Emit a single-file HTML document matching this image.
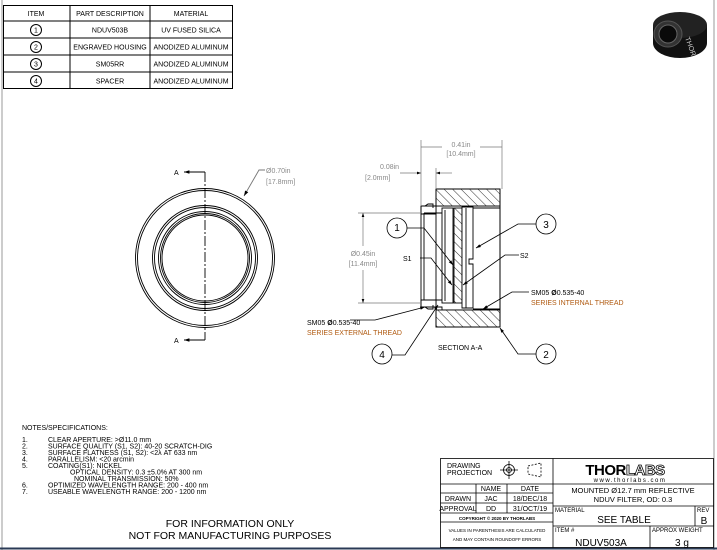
<!DOCTYPE html>
<html><head><meta charset="utf-8"><style>
body{margin:0;background:#fff;}
svg{display:block;font-family:"Liberation Sans",sans-serif;}
.t{font-size:7px;fill:#000;}
.g{font-size:7px;fill:#888;}
.o{font-size:7px;fill:#b05a10;}
</style></head><body>
<svg width="717" height="550" viewBox="0 0 717 550" xmlns="http://www.w3.org/2000/svg">
<defs>
<pattern id="h" width="6" height="6" patternUnits="userSpaceOnUse" patternTransform="rotate(-45)">
<rect width="6" height="6" fill="#fff"/><line x1="0" y1="0" x2="0" y2="6" stroke="#000" stroke-width="0.8"/></pattern>
<marker id="ar" markerWidth="6" markerHeight="6" refX="6" refY="3" orient="auto"><path d="M0,1 L6,3 L0,5z" fill="#000"/></marker>
</defs>
<line x1="2" y1="0" x2="2" y2="550" stroke="#bbb" stroke-width="1.5"/>
<line x1="714" y1="0" x2="714" y2="550" stroke="#bbb" stroke-width="1.5"/>
<line x1="0" y1="548.5" x2="717" y2="548.5" stroke="#2a3a55" stroke-width="2"/>

<!-- parts table -->
<g stroke="#000" stroke-width="1" fill="none">
<rect x="3.5" y="5.5" width="229" height="83"/>
<line x1="70" y1="5.5" x2="70" y2="88.5"/><line x1="150" y1="5.5" x2="150" y2="88.5"/>
<line x1="3.5" y1="21" x2="232.5" y2="21"/><line x1="3.5" y1="38" x2="232.5" y2="38"/>
<line x1="3.5" y1="55" x2="232.5" y2="55"/><line x1="3.5" y1="72" x2="232.5" y2="72"/>
<circle cx="36" cy="30" r="5.5"/><circle cx="36" cy="47" r="5.5"/><circle cx="36" cy="64" r="5.5"/><circle cx="36" cy="81" r="5.5"/>
</g>
<g class="t" text-anchor="middle">
<text x="36" y="16">ITEM</text><text x="110" y="16">PART DESCRIPTION</text><text x="191" y="16">MATERIAL</text>
<text x="36" y="32.5">1</text><text x="36" y="49.5">2</text><text x="36" y="66.5">3</text><text x="36" y="83.5">4</text>
<text x="110" y="32.5">NDUV503B</text><text x="191" y="32.5">UV FUSED SILICA</text>
<text x="110" y="49.5">ENGRAVED HOUSING</text><text x="191" y="49.5">ANODIZED ALUMINUM</text>
<text x="110" y="66.5">SM05RR</text><text x="191" y="66.5">ANODIZED ALUMINUM</text>
<text x="110" y="83.5">SPACER</text><text x="191" y="83.5">ANODIZED ALUMINUM</text>
</g>

<!-- photo -->
<g>
<ellipse cx="680" cy="43" rx="27" ry="15" fill="#111"/>
<rect x="653" y="25" width="54" height="18" fill="#111"/>
<ellipse cx="680" cy="25" rx="27" ry="13" fill="#222"/>
<ellipse cx="668" cy="34" rx="14" ry="13" fill="#333" stroke="#555"/>
<ellipse cx="668" cy="34" rx="9" ry="9" fill="#0a0a0a" stroke="#666"/>
<text x="685" y="38" font-size="7" fill="#ccc" transform="rotate(70 685 38)">THOR</text>
</g>

<!-- front view -->
<g stroke="#000" stroke-width="0.9" fill="none">
<circle cx="205" cy="258" r="69.5"/><circle cx="205" cy="258" r="67.5"/>
<circle cx="205" cy="258" r="52.5"/><circle cx="205" cy="258" r="50.5"/>
<circle cx="205" cy="258" r="46.5"/><circle cx="205" cy="258" r="44.5"/><circle cx="205" cy="258" r="43"/>
<line x1="205" y1="172" x2="205" y2="340" stroke-dasharray="10,2,2,2"/>
<polyline points="205,172 184,172" marker-end="url(#ar)"/>
<polyline points="205,340 184,340" marker-end="url(#ar)"/>
<polyline points="265,170 259,170 244,196" stroke="#777" marker-end="url(#ar)"/>
</g>
<text class="t" x="174" y="175" font-size="8">A</text><text class="t" x="174" y="343" font-size="8">A</text>
<text class="g" x="266" y="173">Ø0.70in</text><text class="g" x="266" y="184">[17.8mm]</text>

<!-- section view -->
<g stroke="#000" stroke-width="0.9">
<path d="M436,189 H500 V327 H436 V307 H442 V310 H500 M436,189 V206 H500" fill="none"/>
<rect x="436" y="189" width="64" height="17" fill="url(#h)"/>
<rect x="436" y="310" width="64" height="17" fill="url(#h)"/>
<rect x="436" y="189" width="64" height="138" fill="none"/>
<path d="M421,206 H436 V214 H421 Z M421,300 H436 V307 H421 Z" fill="#fff"/>
<path d="M421,206 V307 M424,213 H442 M424,300 H442 M424,213 V300" fill="none"/>
<path d="M425,206 l3,-2 h5 v4 M425,307 l3,2 h5 v-4" fill="none"/>
<rect x="442" y="208" width="11" height="95" fill="#fff"/>
<line x1="445" y1="210" x2="445" y2="301"/>
<rect x="454" y="208" width="8" height="95" fill="url(#h)"/>
<path d="M462,207 h11 v52 h-4 v5 h4 v44 h-11 z" fill="#fff"/>
<line x1="466" y1="208" x2="466" y2="308"/>
<line x1="473" y1="208" x2="500" y2="208"/>
<line x1="473" y1="309" x2="500" y2="309"/>
</g>
<!-- dimensions -->
<g stroke="#777" stroke-width="0.7" fill="none">
<line x1="421" y1="140" x2="421" y2="206"/><line x1="502" y1="140" x2="502" y2="189"/>
<line x1="436" y1="168" x2="436" y2="189"/>
<line x1="421" y1="147" x2="502" y2="147"/>
<line x1="400" y1="173" x2="421" y2="173" marker-end="url(#ar)"/>
<line x1="452" y1="173" x2="436" y2="173" marker-end="url(#ar)"/>
<line x1="358" y1="213" x2="421" y2="213"/><line x1="358" y1="303" x2="421" y2="303"/>
<line x1="363" y1="246" x2="363" y2="213" marker-end="url(#ar)"/>
<line x1="363" y1="270" x2="363" y2="303" marker-end="url(#ar)"/>
</g>
<rect x="442" y="140" width="38" height="20" fill="#fff"/>
<text class="g" x="461" y="147" text-anchor="middle">0.41in</text><text class="g" x="461" y="156" text-anchor="middle">[10.4mm]</text>
<text class="g" x="380" y="169">0.08in</text><text class="g" x="365" y="180" font-size="7">[2.0mm]</text>
<rect x="352" y="247" width="22" height="22" fill="#fff"/>
<text class="g" x="363" y="256" text-anchor="middle">Ø0.45in</text><text class="g" x="363" y="266" text-anchor="middle">[11.4mm]</text>
<!-- leaders -->
<g stroke="#000" stroke-width="0.8" fill="none">
<circle cx="397" cy="228" r="10"/><circle cx="546" cy="224" r="10"/>
<circle cx="382" cy="354" r="10"/><circle cx="546" cy="354" r="10"/>
<polyline points="407,228 424,228 453,265" marker-end="url(#ar)"/>
<polyline points="536,224 518,224 476,248" marker-end="url(#ar)"/>
<polyline points="392,355 405,355 438,305" marker-end="url(#ar)"/>
<polyline points="536,354 518,354 500,328" marker-end="url(#ar)"/>
<polyline points="420,258 431,258 452,285" marker-end="url(#ar)"/>
<polyline points="519,255 505,255 463,285" marker-end="url(#ar)"/>
<polyline points="350,320 375,320 425,307" marker-end="url(#ar)"/>
<polyline points="529,292 512,292 483,309" marker-end="url(#ar)"/>
</g>
<g class="t" text-anchor="middle" font-size="9">
<text x="397" y="231" font-size="10">1</text><text x="546" y="228" font-size="10">3</text>
<text x="382" y="358" font-size="10">4</text><text x="546" y="358" font-size="10">2</text>
</g>
<text class="t" x="403" y="261">S1</text><text class="t" x="520" y="258">S2</text>
<text class="t" x="307" y="325">SM05 <tspan font-weight="bold">Ø</tspan>0.535-40</text>
<text class="o" x="307" y="335">SERIES EXTERNAL THREAD</text>
<text class="t" x="531" y="295">SM05 <tspan font-weight="bold">Ø</tspan>0.535-40</text>
<text class="o" x="531" y="305">SERIES INTERNAL THREAD</text>
<text class="t" x="438" y="350">SECTION A-A</text>

<!-- notes -->
<g class="t" font-size="6.5">
<text x="22" y="430">NOTES/SPECIFICATIONS:</text>
<text x="22" y="442">1.</text><text x="48" y="442">CLEAR APERTURE: &gt;Ø11.0 mm</text>
<text x="22" y="448.5">2.</text><text x="48" y="448.5">SURFACE QUALITY (S1, S2): 40-20 SCRATCH-DIG</text>
<text x="22" y="455">3.</text><text x="48" y="455">SURFACE FLATNESS (S1, S2): &lt;2λ AT 633 nm</text>
<text x="22" y="461.5">4.</text><text x="48" y="461.5">PARALLELISM: &lt;20 arcmin</text>
<text x="22" y="468">5.</text><text x="48" y="468">COATING(S1): NICKEL</text>
<text x="70" y="474.5">OPTICAL DENSITY: 0.3 ±5.0% AT 300 nm</text>
<text x="74" y="481">NOMINAL TRANSMISSION: 50%</text>
<text x="22" y="487.5">6.</text><text x="48" y="487.5">OPTIMIZED WAVELENGTH RANGE: 200 - 400 nm</text>
<text x="22" y="494">7.</text><text x="48" y="494">USEABLE WAVELENGTH RANGE: 200 - 1200 nm</text>
</g>
<text x="230" y="527" text-anchor="middle" font-size="10.5" fill="#000">FOR INFORMATION ONLY</text>
<text x="230" y="539" text-anchor="middle" font-size="10.5" fill="#000">NOT FOR MANUFACTURING PURPOSES</text>

<!-- title block -->
<g stroke="#000" stroke-width="0.8" fill="none">
<rect x="440.5" y="458.5" width="273" height="89"/>
<line x1="553" y1="458.5" x2="553" y2="547.5"/>
<line x1="440.5" y1="484" x2="714" y2="484"/>
<line x1="440.5" y1="493" x2="553" y2="493"/>
<line x1="440.5" y1="503" x2="553" y2="503"/>
<line x1="440.5" y1="513" x2="553" y2="513"/>
<line x1="440.5" y1="522" x2="553" y2="522"/>
<line x1="476" y1="484" x2="476" y2="513"/><line x1="507" y1="484" x2="507" y2="513"/>
<line x1="553" y1="506" x2="714" y2="506"/>
<line x1="553" y1="526" x2="714" y2="526"/>
<line x1="695" y1="506" x2="695" y2="526"/>
<line x1="650" y1="526" x2="650" y2="547.5"/>
<circle cx="509" cy="470" r="5.5"/><circle cx="509" cy="470" r="2.5"/>
<line x1="500" y1="470" x2="518" y2="470"/><line x1="509" y1="461" x2="509" y2="479"/>
<path d="M528,466 L541,463 V477 L528,474 Z" stroke-dasharray="2,1.5"/>
</g>
<g class="t" font-size="6.5">
<text x="447" y="468">DRAWING</text><text x="447" y="475">PROJECTION</text>
<text x="491" y="491" text-anchor="middle">NAME</text><text x="530" y="491" text-anchor="middle">DATE</text>
<text x="458" y="501" text-anchor="middle">DRAWN</text><text x="491" y="501" text-anchor="middle">JAC</text><text x="530" y="501" text-anchor="middle">18/DEC/18</text>
<text x="458" y="511" text-anchor="middle">APPROVAL</text><text x="491" y="511" text-anchor="middle">DD</text><text x="530" y="511" text-anchor="middle">31/OCT/19</text>
<text x="497" y="520" text-anchor="middle" font-size="4.5" font-weight="bold">COPYRIGHT © 2020 BY THORLABS</text>
<text x="497" y="532" text-anchor="middle" font-size="4.5">VALUES IN PARENTHESIS ARE CALCULATED</text>
<text x="497" y="541" text-anchor="middle" font-size="4.5">AND MAY CONTAIN ROUNDOFF ERRORS</text>
<text x="555" y="512" font-size="6">MATERIAL</text>
<text x="697" y="512" font-size="6">REV</text>
<text x="555" y="532" font-size="6">ITEM #</text>
<text x="652" y="532" font-size="6">APPROX WEIGHT</text>
<text x="633" y="493" text-anchor="middle" font-size="7.5">MOUNTED Ø12.7 mm REFLECTIVE</text>
<text x="633" y="502" text-anchor="middle" font-size="7.5">NDUV FILTER, OD: 0.3</text>
</g>
<text x="625" y="475" text-anchor="middle" font-size="15" font-weight="bold" fill="#000" letter-spacing="-0.5">THOR<tspan fill="#fff" stroke="#000" stroke-width="0.8">LABS</tspan></text>
<text x="630" y="482" text-anchor="middle" font-size="6" fill="#000" letter-spacing="1.5">www.thorlabs.com</text>
<text x="624" y="523" text-anchor="middle" font-size="10" fill="#000">SEE TABLE</text>
<text x="704" y="524" text-anchor="middle" font-size="10" fill="#000">B</text>
<text x="601" y="546" text-anchor="middle" font-size="10" fill="#000">NDUV503A</text>
<text x="682" y="546" text-anchor="middle" font-size="10" fill="#000">3 g</text>
</svg>
</body></html>
